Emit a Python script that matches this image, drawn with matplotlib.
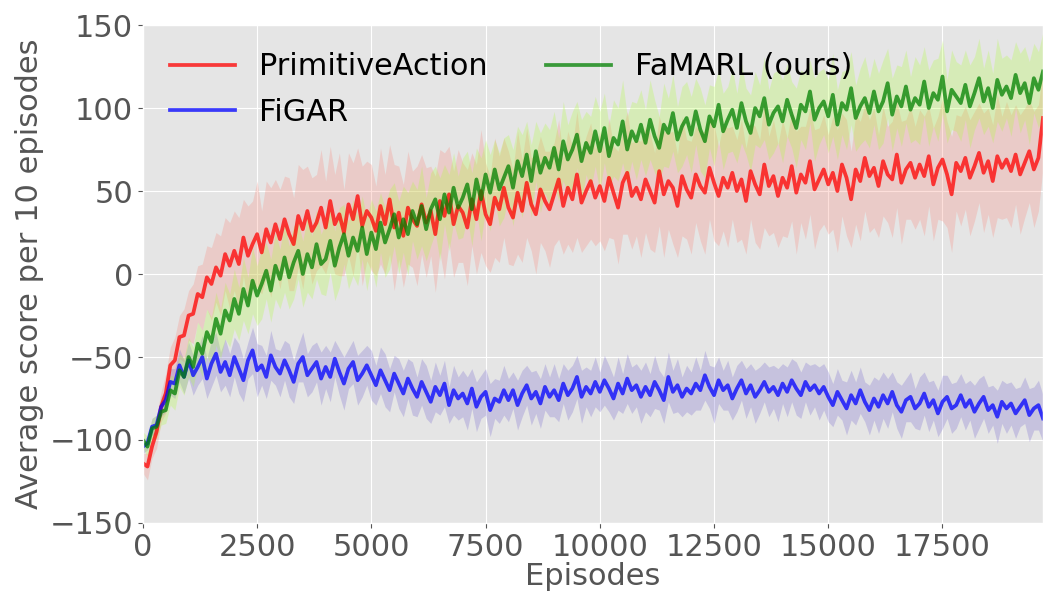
import numpy as np
import matplotlib
matplotlib.use("Agg")
import matplotlib.pyplot as plt

# ============================================================
# DATOS (leídos a ojo del gráfico, un valor cada 100 episodios)
# ============================================================
paso = 100

primitive_media = [
    -114, -116, -104, -95, -80, -72, -55, -52, -38, -37,
    -25, -24, -12, -14, -2, -6, 4, -1, 12, 5,
    14, 6, 22, 11, 18, 24, 13, 27, 19, 30,
    21, 33, 24, 18, 35, 27, 38, 26, 31, 40,
    28, 44, 30, 36, 25, 42, 33, 47, 29, 38,
    34, 26, 41, 30, 45, 28, 37, 23, 40, 33,
    29, 42, 31, 38, 24, 44, 35, 48, 30, 41,
    37, 28, 45, 33, 50, 36, 30, 46, 39, 52,
    40, 34, 49, 38, 55, 42, 36, 51, 44, 39,
    48, 57, 41, 52, 45, 60, 43, 50, 56, 46,
    53, 44, 58, 49, 40, 55, 61, 47, 52, 45,
    57, 50, 43, 62, 48, 56, 52, 41, 59, 51,
    46, 60, 53, 49, 64, 55, 47, 58, 52, 61,
    50, 57, 44, 62, 54, 48, 66, 53, 59, 47,
    58, 52, 65, 49, 60, 55, 68, 51, 57, 63,
    54, 61, 50, 66, 58, 45, 63, 56, 70, 59,
    64, 53, 68, 60, 57, 72, 55, 63, 67, 58,
    66, 59, 71, 54, 64, 69, 60, 48, 67, 62,
    70, 58, 65, 73, 61, 68, 56, 71, 64, 69,
    62, 72, 60, 67, 74, 63, 70, 94,
]
primitive_desv = [
    6, 8, 7, 10, 9, 12, 11, 14, 13, 16,
    15, 18, 17, 20, 19, 22, 21, 24, 22, 26,
    24, 28, 23, 30, 26, 32, 25, 29, 33, 27,
    30, 26, 34, 28, 31, 36, 27, 32, 29, 35,
    28, 33, 30, 37, 26, 31, 34, 29, 36, 30,
    32, 27, 35, 30, 33, 38, 28, 31, 34, 29,
    36, 30, 33, 27, 35, 31, 38, 29, 32, 34,
    30, 35, 28, 33, 37, 31, 29, 36, 32, 30,
    34, 29, 37, 31, 33, 28, 36, 32, 30, 35,
    31, 36, 29, 34, 32, 38, 30, 33, 35, 29,
    33, 30, 36, 28, 34, 31, 37, 32, 29, 35,
    32, 35, 30, 33, 38, 29, 34, 31, 36, 30,
    34, 29, 33, 37, 31, 35, 30, 32, 36, 28,
    31, 36, 32, 29, 35, 33, 38, 30, 34, 31,
    35, 30, 33, 37, 29, 34, 32, 36, 31, 33,
    30, 34, 37, 31, 35, 29, 33, 36, 32, 34,
    36, 31, 33, 29, 35, 32, 37, 30, 34, 31,
    33, 36, 30, 34, 31, 37, 32, 35, 29, 33,
    31, 35, 33, 30, 36, 32, 34, 37, 31, 35,
    34, 30, 36, 33, 31, 35, 32, 30,
]

figar_media = [
    -104, -102, -92, -91, -80, -76, -65, -66, -55, -62,
    -52, -61, -56, -50, -63, -54, -48, -59, -53, -61,
    -50, -57, -64, -52, -46, -58, -55, -62, -49, -56,
    -60, -52, -58, -65, -54, -50, -61, -57, -53, -63,
    -56, -62, -51, -59, -66, -57, -53, -64, -60, -55,
    -61, -67, -58, -64, -70, -60, -66, -72, -63, -69,
    -74, -65, -71, -77, -68, -73, -66, -79, -70, -75,
    -72, -78, -69, -80, -74, -71, -82, -75, -77, -70,
    -76, -70, -79, -72, -67, -75, -71, -78, -68, -74,
    -70, -76, -66, -73, -69, -62, -74, -68, -72, -65,
    -71, -64, -69, -75, -66, -72, -63, -70, -67, -74,
    -68, -73, -65, -70, -76, -62, -71, -67, -74, -69,
    -72, -66, -70, -61, -68, -73, -64, -70, -67, -75,
    -69, -64, -72, -67, -74, -70, -65, -71, -68, -73,
    -66, -71, -64, -69, -73, -65, -70, -67, -72, -68,
    -74, -79, -71, -76, -81, -73, -78, -70, -77, -82,
    -75, -80, -73, -78, -71, -79, -83, -76, -74, -81,
    -78, -72, -80, -76, -84, -77, -74, -81, -79, -73,
    -80, -76, -83, -78, -74, -82, -79, -86, -77, -81,
    -78, -84, -80, -76, -85, -81, -79, -87,
]
figar_desv = [
    4, 4, 5, 6, 6, 7, 8, 9, 10, 10,
    11, 12, 11, 13, 12, 14, 13, 12, 14, 13,
    12, 15, 13, 11, 14, 16, 12, 13, 15, 11,
    14, 12, 16, 13, 11, 15, 13, 14, 12, 16,
    13, 15, 11, 14, 16, 12, 13, 15, 14, 12,
    15, 12, 14, 16, 13, 11, 15, 14, 12, 16,
    12, 14, 16, 13, 15, 12, 14, 11, 15, 13,
    14, 16, 12, 15, 13, 14, 16, 12, 13, 15,
    13, 11, 15, 14, 12, 16, 13, 15, 14, 12,
    16, 13, 12, 15, 14, 13, 16, 12, 14, 15,
    12, 15, 14, 13, 16, 12, 15, 14, 13, 16,
    15, 13, 16, 12, 14, 15, 13, 16, 12, 14,
    13, 16, 12, 15, 13, 17, 14, 12, 15, 13,
    14, 12, 15, 13, 16, 14, 12, 15, 13, 16,
    12, 15, 13, 16, 14, 12, 15, 13, 16, 14,
    15, 13, 14, 12, 16, 15, 13, 14, 12, 15,
    13, 16, 14, 15, 12, 14, 16, 13, 15, 12,
    16, 13, 15, 12, 14, 16, 13, 15, 14, 13,
    14, 12, 16, 15, 13, 14, 12, 16, 13, 15,
    13, 15, 12, 14, 16, 13, 15, 14,
]

famarl_media = [
    -100, -104, -93, -92, -83, -82, -70, -72, -58, -62,
    -50, -56, -42, -48, -35, -41, -27, -36, -22, -28,
    -15, -24, -9, -19, -4, -13, -6, 2, -10, 5,
    -3, 10, -2, 7, 14, 0, 12, 4, 18, 6,
    9, 20, 5, 16, 24, 11, 22, 14, 28, 12,
    25, 15, 31, 19, 27, 36, 22, 33, 24, 38,
    30, 41, 27, 39, 45, 33, 48, 37, 52, 40,
    46, 54, 39, 57, 45, 60, 49, 63, 51, 58,
    65, 52, 68, 59, 72, 56, 74, 61, 70, 64,
    76, 63, 80, 69, 75, 84, 68, 79, 73, 86,
    74, 88, 71, 82, 78, 92, 75, 86, 80, 90,
    79, 93, 83, 76, 90, 85, 97, 81, 89, 94,
    84, 98, 87, 80, 95, 89, 102, 86, 93, 99,
    88, 103, 92, 85, 100, 95, 106, 90, 97, 101,
    92, 105, 96, 88, 102, 98, 110, 93, 100, 104,
    95, 108, 90, 103, 99, 112, 94, 101, 106, 97,
    110, 98, 104, 115, 96, 107, 101, 113, 99, 106,
    102, 116, 100, 109, 105, 119, 98, 111, 107, 103,
    114, 101, 109, 118, 104, 112, 100, 117, 108, 113,
    106, 120, 109, 115, 103, 118, 111, 122,
]
famarl_desv = [
    5, 6, 6, 7, 8, 8, 9, 10, 10, 11,
    12, 12, 13, 14, 14, 15, 16, 15, 17, 16,
    18, 16, 19, 17, 20, 18, 21, 17, 19, 20,
    18, 21, 19, 22, 17, 20, 23, 19, 21, 18,
    22, 19, 21, 24, 18, 20, 23, 21, 19, 22,
    20, 23, 18, 21, 24, 19, 22, 20, 25, 18,
    21, 24, 19, 22, 20, 25, 18, 23, 21, 19,
    24, 20, 22, 19, 25, 21, 23, 18, 22, 24,
    19, 23, 21, 25, 20, 22, 18, 24, 21, 23,
    22, 19, 24, 21, 23, 20, 25, 19, 22, 21,
    24, 21, 19, 23, 22, 25, 20, 18, 23, 21,
    20, 24, 22, 19, 25, 21, 23, 20, 24, 22,
    23, 20, 25, 22, 19, 24, 21, 23, 20, 25,
    21, 24, 20, 23, 22, 19, 25, 21, 24, 22,
    25, 22, 20, 24, 21, 23, 19, 25, 22, 20,
    22, 25, 21, 19, 24, 22, 20, 23, 25, 21,
    20, 23, 25, 21, 22, 19, 24, 22, 20, 25,
    24, 21, 23, 20, 25, 22, 19, 24, 21, 23,
    21, 25, 22, 24, 20, 23, 21, 25, 22, 19,
    23, 20, 24, 22, 25, 21, 23, 24,
]

series = [
    ("PrimitiveAction", primitive_media, primitive_desv, "red", "salmon"),
    ("FiGAR", figar_media, figar_desv, "blue", "slateblue"),
    ("FaMARL (ours)", famarl_media, famarl_desv, "green", "greenyellow"),
]

x_ticks = [0, 2500, 5000, 7500, 10000, 12500, 15000, 17500]


# ============================================================
# GRAFICO
# ============================================================
def main():
    plt.style.use("ggplot")
    fig = plt.figure(figsize=(10.43, 5.97), dpi=100)
    ax = fig.add_axes([0.137, 0.124, 0.863, 0.834])

    for nombre, media, desv, color, color_banda in series:
        m = np.asarray(media, dtype=float)
        d = np.asarray(desv, dtype=float)
        x = np.arange(len(m)) * paso
        ax.fill_between(x, m - d, m + d, color=color_banda, alpha=0.25, lw=0)
        ax.plot(x, m, color=color, alpha=0.75, lw=2.7, label=nombre)

    ax.set_xlim(0, 19700)
    ax.set_ylim(-150, 150)
    ax.set_xticks(x_ticks)
    ax.set_yticks([-150, -100, -50, 0, 50, 100, 150])
    ax.tick_params(labelsize=22)
    ax.set_xlabel("Episodes", fontsize=22, labelpad=0)
    ax.set_ylabel("Average score per 10 episodes", fontsize=22, labelpad=4)

    leg = ax.legend(loc="upper left", ncol=2, fontsize=21.8, frameon=False,
                    handlelength=2.15, handletextpad=0.8, columnspacing=1.9,
                    labelspacing=0.55, borderaxespad=0.5)
    for t in leg.get_texts():
        t.set_color("black")

    fig.savefig("out.png", dpi=100)
    plt.close(fig)


if __name__ == "__main__":
    main()
